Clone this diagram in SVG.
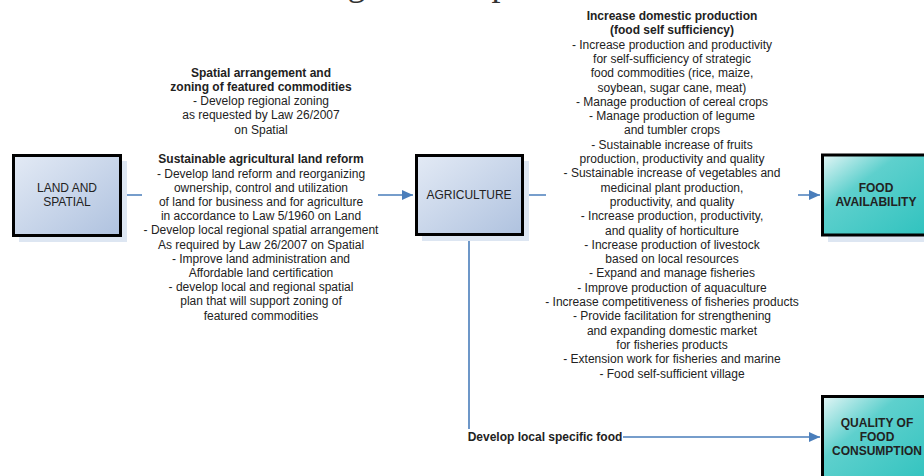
<svg xmlns="http://www.w3.org/2000/svg" width="924" height="476" viewBox="0 0 924 476">
  <defs>
    <linearGradient id="gradBlue" x1="0" y1="0" x2="1" y2="1">
      <stop offset="0" stop-color="#e3eaf5"/>
      <stop offset="1" stop-color="#afc2df"/>
    </linearGradient>
    <linearGradient id="gradTeal" x1="0" y1="0" x2="1" y2="1">
      <stop offset="0" stop-color="#e4f6f6"/>
      <stop offset="0.35" stop-color="#5ed0cd"/>
      <stop offset="1" stop-color="#2ec2be"/>
    </linearGradient>
    <marker id="arrow" markerUnits="userSpaceOnUse" markerWidth="11" markerHeight="10" refX="11" refY="5" orient="auto">
      <path d="M0,0 L11,5 L0,10 z" fill="#4a7ebb"/>
    </marker>
  </defs>
  <style>
    .box { stroke: #000; stroke-width: 3; }
    .shadow { fill: #dde6f2; }
    .lbl { font-family: "Liberation Sans", Arial, sans-serif; font-size: 12px; fill: #222; text-anchor: middle; }
    .bold { font-weight: bold; }
    .conn { fill: none; stroke: #4a7ebb; stroke-width: 1.6; }
    .title { font-family: "Liberation Serif", "Times New Roman", serif; font-size: 36px; fill: #333; text-anchor: middle; }
  </style>

  <!-- caption running off the top edge -->
  <text class="title" x="460" y="-5">Strategies to Improve Food</text>

  <!-- connectors -->
  <g id="connectors">
    <path class="conn" d="M120,182 V195 H413" marker-end="url(#arrow)"/>
    <path class="conn" d="M524,195 H820" marker-end="url(#arrow)"/>
    <path class="conn" d="M469,236 V437 H820" marker-end="url(#arrow)"/>
  </g>

  <!-- node: land and spatial -->
  <g id="land-spatial">
    <rect class="shadow" x="19" y="161" width="108" height="81"/>
    <rect class="box" x="13.5" y="155.5" width="107" height="80" fill="url(#gradBlue)"/>
    <text class="lbl" x="67" y="192">LAND AND</text>
    <text class="lbl" x="67" y="206">SPATIAL</text>
  </g>

  <!-- node: agriculture -->
  <g id="agriculture">
    <rect class="shadow" x="422" y="161" width="107" height="80"/>
    <rect class="box" x="416.5" y="155.5" width="106" height="79" fill="url(#gradBlue)"/>
    <text class="lbl" x="469" y="199">AGRICULTURE</text>
  </g>

  <!-- node: food availability -->
  <g id="food-availability">
    <rect class="shadow" x="828" y="161" width="110" height="81"/>
    <rect class="box" x="822.5" y="155" width="110" height="80" fill="url(#gradTeal)"/>
    <text class="lbl bold" x="876" y="192">FOOD</text>
    <text class="lbl bold" x="876" y="206">AVAILABILITY</text>
  </g>

  <!-- node: quality of food consumption -->
  <g id="food-consumption">
    <rect class="box" x="822.5" y="396.5" width="110" height="90" fill="url(#gradTeal)"/>
    <text class="lbl bold" x="877" y="427">QUALITY OF</text>
    <text class="lbl bold" x="877" y="441">FOOD</text>
    <text class="lbl bold" x="877" y="455">CONSUMPTION</text>
  </g>

  <!-- land-to-agriculture programme notes -->
  <g id="spatial-notes">
    <text class="lbl bold" x="261" y="76.5">Spatial arrangement and</text>
    <text class="lbl bold" x="261" y="90.8">zoning of featured commodities</text>
    <text class="lbl" x="261" y="105.1">- Develop regional zoning</text>
    <text class="lbl" x="261" y="119.4">as requested by Law 26/2007</text>
    <text class="lbl" x="261" y="133.7">on Spatial</text>
  </g>

  <g id="land-reform-notes">
    <rect x="142" y="150" width="236" height="175" fill="#fff"/>
    <text class="lbl bold" x="261" y="163.3">Sustainable agricultural land reform</text>
    <text class="lbl" x="261" y="177.5">- Develop land reform and reorganizing</text>
    <text class="lbl" x="261" y="191.7">ownership, control and utilization</text>
    <text class="lbl" x="261" y="205.9">of land for business and for agriculture</text>
    <text class="lbl" x="261" y="220.1">in accordance to Law 5/1960 on Land</text>
    <text class="lbl" x="261" y="234.3">- Develop local regional spatial arrangement</text>
    <text class="lbl" x="261" y="248.5">As required by Law 26/2007 on Spatial</text>
    <text class="lbl" x="261" y="262.7">- Improve land administration and</text>
    <text class="lbl" x="261" y="276.9">Affordable land certification</text>
    <text class="lbl" x="261" y="291.1">- develop local and regional spatial</text>
    <text class="lbl" x="261" y="305.3">plan that will support zoning of</text>
    <text class="lbl" x="261" y="319.5">featured commodities</text>
  </g>

  <!-- agriculture-to-availability programme notes -->
  <g id="production-notes">
    <rect x="546" y="8" width="252" height="374" fill="#fff"/>
    <text class="lbl bold" x="672" y="20">Increase domestic production</text>
    <text class="lbl bold" x="672" y="34.3">(food self sufficiency)</text>
    <text class="lbl" x="672" y="48.6">- Increase production and productivity</text>
    <text class="lbl" x="672" y="62.9">for self-sufficiency of strategic</text>
    <text class="lbl" x="672" y="77.2">food commodities (rice, maize,</text>
    <text class="lbl" x="672" y="91.5">soybean, sugar cane, meat)</text>
    <text class="lbl" x="672" y="105.8">- Manage production of cereal crops</text>
    <text class="lbl" x="672" y="120.1">- Manage production of legume</text>
    <text class="lbl" x="672" y="134.4">and tumbler crops</text>
    <text class="lbl" x="672" y="148.7">- Sustainable increase of fruits</text>
    <text class="lbl" x="672" y="163">production, productivity and quality</text>
    <text class="lbl" x="672" y="177.3">- Sustainable increase of vegetables and</text>
    <text class="lbl" x="672" y="191.6">medicinal plant production,</text>
    <text class="lbl" x="672" y="205.9">productivity, and quality</text>
    <text class="lbl" x="672" y="220.2">- Increase production, productivity,</text>
    <text class="lbl" x="672" y="234.5">and quality of horticulture</text>
    <text class="lbl" x="672" y="248.8">- Increase production of livestock</text>
    <text class="lbl" x="672" y="263.1">based on local resources</text>
    <text class="lbl" x="672" y="277.4">- Expand and manage fisheries</text>
    <text class="lbl" x="672" y="291.7">- Improve production of aquaculture</text>
    <text class="lbl" x="672" y="306">- Increase competitiveness of fisheries products</text>
    <text class="lbl" x="672" y="320.3">- Provide facilitation for strengthening</text>
    <text class="lbl" x="672" y="334.6">and expanding domestic market</text>
    <text class="lbl" x="672" y="348.9">for fisheries products</text>
    <text class="lbl" x="672" y="363.2">- Extension work for fisheries and marine</text>
    <text class="lbl" x="672" y="377.5">- Food self-sufficient village</text>
  </g>

  <!-- agriculture-to-consumption label -->
  <g id="local-food-label">
    <rect x="466" y="429" width="157" height="16" fill="#fff"/>
    <text class="lbl bold" x="545" y="441">Develop local specific food</text>
  </g>
</svg>
